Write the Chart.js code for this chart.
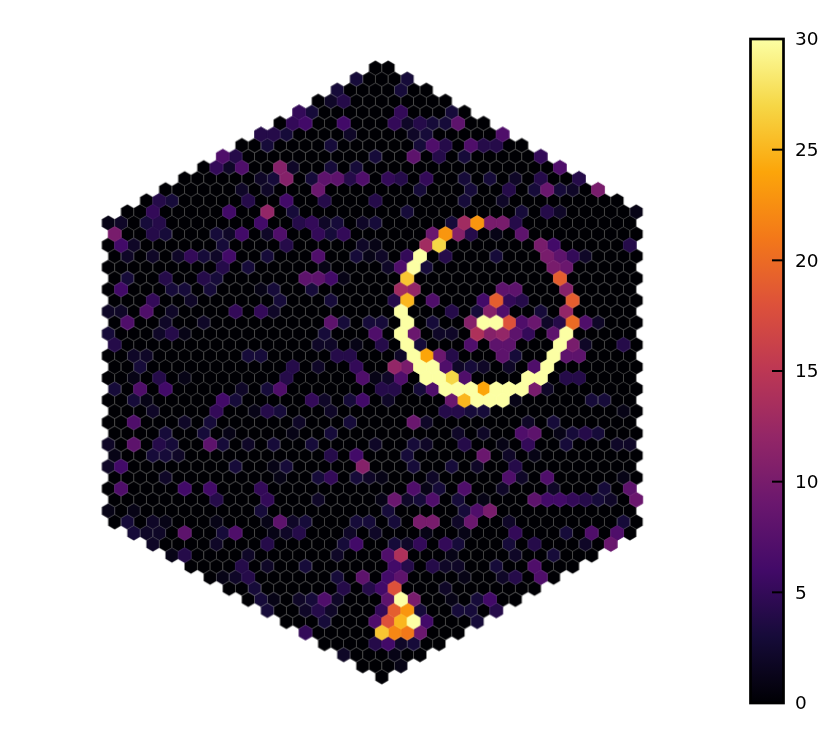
<!DOCTYPE html>
<html>
<head>
<meta charset="utf-8">
<style>
  html, body { margin: 0; background: #fff; }
  canvas { display: block; }
</style>
<script src="https://cdn.jsdelivr.net/npm/chart.js@4"></script>
</head>
<body>
<canvas id="chart" width="830" height="744"></canvas>
<script>
// Extent of the hex grid: first and last column of rows 0..55 (columns count half cells)
const rowFirst = [42,39,36,33,30,27,24,21,18,15,12,9,6,3,0,1,0,1,0,1,0,1,0,1,0,1,0,1,0,1,0,1,0,1,0,1,0,1,0,1,0,1,4,7,10,13,16,19,22,25,28,31,34,37,40,43];
const rowLast = [44,47,50,53,56,59,62,65,68,71,74,77,80,83,82,83,82,83,82,83,82,83,82,83,82,83,82,83,82,83,82,83,82,83,82,83,82,83,82,83,82,83,82,79,76,73,70,67,64,61,58,55,52,49,46,43];

// Cells above the empty background, one line per row
const hotCols = [
  [],
  [39,47],
  [36,46],
  [35,37],
  [30,32,46,54],
  [29,31,37,45,47,49,51,53,55],
  [24,26,28,38,48,50,62],
  [25,35,49,51,53,57,59,61],
  [18,20,42,48,52,56,68],
  [17,19,21,27,29,35,39,71],
  [24,26,28,32,34,36,38,40,44,46,50,56,60,64,68,74],
  [21,25,33,49,57,63,67,69,71,73,77],
  [8,10,22,28,34,42,56,62],
  [7,19,25,29,47,65,69,71,83],
  [0,2,6,8,24,30,32,34,36,40,42,54,56,58,60,62,64],
  [1,7,9,17,19,21,25,27,33,35,37,51,53,55,57,61,65],
  [2,4,18,28,40,42,50,52,68,70,82],
  [3,7,11,13,15,17,19,25,33,39,41,43,47,49,53,61,69,71,73,75],
  [18,22,34,44,46,48,50,70,72],
  [3,9,15,17,31,33,35,37,47,71],
  [2,10,12,16,24,26,32,46,48,62,64,72],
  [7,13,27,35,45,47,51,59,61,63,65,73],
  [0,2,6,10,20,24,26,46,54,58,60,62,68,72],
  [3,9,15,35,37,41,43,47,51,57,59,61,63,65,67,69,71,73,75,77],
  [0,8,10,12,34,42,46,48,52,54,58,60,62,64,66,70,72],
  [1,33,35,39,43,47,49,57,61,63,71,73,75,81],
  [4,6,22,24,36,38,46,48,50,52,54,62,64,70,72,74],
  [5,29,33,39,45,47,49,51,53,55,57,59,63,67,69],
  [4,8,12,28,40,42,44,46,50,52,54,56,66,68,72,74],
  [1,5,9,21,25,27,43,45,49,51,53,55,57,59,61,63,65,67,69],
  [4,6,18,20,32,34,38,40,44,54,56,58,60,62,64,76,78],
  [7,17,23,25,27,35,53,55,57,59,81],
  [4,12,16,30,38,48,50,66,70],
  [9,15,19,29,35,55,59,65,67,71,73,75,77],
  [0,4,8,10,16,18,22,26,32,42,48,50,56,62,66,72,80,82],
  [1,7,9,11,35,39,47,59,63,67],
  [0,2,20,26,28,40,48,54,58,64],
  [9,27,33,35,39,41,43,51,63,65,69,81],
  [2,12,16,24,48,50,52,56,62,70,78,82],
  [17,25,33,43,45,47,49,51,55,59,67,69,71,73,75,77,79,83],
  [0,4,24,44,56,58,60],
  [3,7,9,17,25,27,29,31,39,41,45,49,51,55,57,63,81],
  [4,6,8,12,18,20,26,28,30,38,42,50,56,64,72,76,80],
  [7,17,25,37,39,45,47,49,53,55,63,67,75,79],
  [10,12,22,36,44,46,54,64,70],
  [21,25,31,45,47,51,53,55,61,67],
  [18,20,22,36,40,44,46,56,62,64,68],
  [23,37,41,43,45,53],
  [24,26,30,32,34,36,44,46,48,54,58,60],
  [25,31,33,35,43,45,47,49,55,57,61],
  [34,42,44,46,48,50,58],
  [31,43,45,47,49],
  [42,44,46,48],
  [37,45],
  [46],
  []
];
const hotCounts = [
  [],
  [3,3],
  [3,3],
  [2,4],
  [5,3,5,3],
  [5,6,6,5,2,4,3,3,8],
  [4,4,3,2,2,3,7],
  [3,3,3,7,4,7,4,4],
  [7,4,3,8,4,3,5],
  [5,2,7,11,2,3,3,7],
  [2,3,11,3,8,8,4,7,5,4,5,3,3,2,4,4],
  [2,2,9,3,3,4,3,9,3,2,10],
  [4,3,4,6,4,4,3,2],
  [5,6,12,3,3,3,4,2,1],
  [1,2,3,4,6,4,5,2,3,2,3,3,13,23,10,10,4],
  [10,4,3,3,2,6,2,7,5,3,5,9,23,11,4,1,8],
  [6,2,3,4,2,1,13,27,10,6,4],
  [2,2,2,5,3,2,6,3,7,3,1,2,5,30,4,3,10,8,5,2],
  [4,3,1,2,7,30,3,10,9],
  [3,4,4,3,8,8,6,1,26,19],
  [6,3,3,3,1,3,3,13,12,8,8,11],
  [5,2,3,3,4,25,7,6,19,5,4,19],
  [2,2,7,2,5,5,2,30,4,3,11,7,3,12],
  [7,2,2,8,3,3,3,30,3,11,30,30,18,7,9,2,4,20,7,2],
  [3,2,4,1,3,7,30,9,2,2,14,11,12,8,5,8,30],
  [4,2,2,1,4,30,3,7,8,8,30,10,2,4],
  [2,2,3,3,4,4,2,30,24,9,4,8,3,30,8,8],
  [3,4,2,5,12,10,30,30,7,2,3,2,2,7,30],
  [1,4,1,4,7,1,2,7,30,30,27,7,30,30,4,4],
  [3,7,6,2,3,7,4,4,3,7,30,30,30,24,30,30,30,10,2],
  [3,1,6,3,5,2,3,6,2,9,25,30,30,30,1,3,3],
  [2,5,1,4,3,2,4,4,3,3,1],
  [7,2,3,2,3,9,2,2,3],
  [3,3,1,1,3,2,2,7,8,1,3,4,3],
  [2,8,4,3,8,3,2,3,3,2,3,2,4,1,5,3,2,2],
  [1,3,3,2,4,6,3,9,2,1],
  [2,6,3,1,3,11,3,3,2,4],
  [2,1,3,5,3,2,1,2,7,2,7,1],
  [7,6,6,5,7,1,3,7,2,2,3,8],
  [4,5,2,1,9,2,3,7,3,1,8,6,6,5,4,3,2,9],
  [1,1,3,3,3,7,10],
  [3,2,1,1,1,8,2,3,3,3,3,10,10,2,9,2,3],
  [3,2,2,8,3,7,1,2,4,2,2,1,1,5,3,7,7],
  [2,2,4,3,6,3,2,5,5,3,3,4,2,9],
  [1,4,2,2,7,14,1,2,3],
  [4,2,3,6,4,4,2,2,3,7],
  [1,2,4,3,8,6,8,1,2,4,7],
  [3,4,4,6,18,2],
  [3,1,2,3,7,2,8,30,10,1,3,6],
  [3,2,4,2,5,19,23,3,3,3,4],
  [3,7,18,25,30,6,3],
  [5,26,22,21,9],
  [4,6,2,3],
  [2,1],
  [1],
  []
];

const colorbarTicks = [0, 5, 10, 15, 20, 25, 30];
const vmax = 30;
// inferno
const colormap = ["#000004","#160b39","#420a68","#6a176e","#932667","#bc3754","#dd513a","#f37819","#fca50a","#f6d746","#fcffa4"];

function hexToRgb(h) {
    return [1, 3, 5].map((i) => parseInt(h.slice(i, i + 2), 16));
}

function colorFor(v) {
    const t = Math.min(v / vmax, 1) * (colormap.length - 1);
    const i = Math.min(Math.floor(t), colormap.length - 2);
    const a = hexToRgb(colormap[i]);
    const b = hexToRgb(colormap[i + 1]);
    const c = a.map((ch, k) => Math.round(ch + (b[k] - ch) * (t - i)));
    return `rgb(${c[0]},${c[1]},${c[2]})`;
}

// one small hexagon canvas per count, chart.js draws it as the point style
const sprites = {};
function hexSprite(v) {
    if (sprites[v]) return sprites[v];
    const cv = document.createElement("canvas");
    cv.width = 16;
    cv.height = 18;
    const c = cv.getContext("2d");
    const R = 7.38;
    c.beginPath();
    for (let k = 0; k < 6; k++) {
        const a = Math.PI / 2 + (k * Math.PI) / 3;
        c.lineTo(8 + R * Math.cos(a), 9 + R * Math.sin(a));
    }
    c.closePath();
    c.fillStyle = colorFor(v);
    c.fill();
    c.lineWidth = v < 4 ? 0.5 : 0.8;
    c.strokeStyle = v < 4 ? "rgba(90,90,90,0.55)" : colorFor(v);
    c.stroke();
    sprites[v] = cv;
    return cv;
}

const cells = [];
rowFirst.forEach((first, r) => {
    for (let col = first; col <= rowLast[r]; col += 2) {
        const i = hotCols[r].indexOf(col);
        cells.push({ x: col, y: r, v: i >= 0 ? hotCounts[r][i] : 0 });
    }
});
// low counts first so the bright cells keep their full shape
cells.sort((a, b) => a.v - b.v);

const colorbarPlugin = {
    id: "colorbar",
    afterDatasetsDraw(chart) {
        const s = chart.scales.cb;
        const c = chart.ctx;
        const right = s.left;
        const left = right - 33;
        const g = c.createLinearGradient(0, s.bottom, 0, s.top);
        colormap.forEach((col, i) => g.addColorStop(i / (colormap.length - 1), col));
        c.save();
        c.fillStyle = g;
        c.fillRect(left, s.top, right - left, s.bottom - s.top);
        c.strokeStyle = "#000";
        c.lineWidth = 2;
        colorbarTicks.forEach((t) => {
            const y = s.getPixelForValue(t);
            c.beginPath();
            c.moveTo(right - 11.5, y);
            c.lineTo(right, y);
            c.stroke();
        });
        c.lineWidth = 2.7;
        c.strokeRect(left, s.top, right - left, s.bottom - s.top);
        c.restore();
    },
};

new Chart(document.getElementById("chart"), {
    type: "scatter",
    data: {
        datasets: [
            {
                data: cells,
                pointRadius: 7,
                pointStyle: (ctx) => hexSprite(ctx.raw ? ctx.raw.v : 0),
            },
        ],
    },
    options: {
        responsive: false,
        animation: false,
        layout: { autoPadding: false, padding: { top: 39, bottom: 41, left: 0, right: 0 } },
        plugins: { legend: { display: false }, tooltip: { enabled: false } },
        scales: {
            x: { type: "linear", display: false, min: -17.03, max: 106.16 },
            y: { type: "linear", display: false, reverse: true, min: -2.62, max: 57.36 },
            cb: {
                type: "linear",
                axis: "y",
                position: "right",
                min: 0,
                max: vmax,
                afterFit: (s) => { s.width = 46.5; },
                afterBuildTicks: (s) => { s.ticks = colorbarTicks.map((value) => ({ value })); },
                grid: { display: false, drawTicks: false },
                border: { display: false },
                ticks: {
                    padding: 11.5,
                    labelOffset: 1.5,
                    color: "#000",
                    font: { family: "DejaVu Sans", size: 18.5 },
                },
            },
        },
    },
    plugins: [colorbarPlugin],
});
</script>
</body>
</html>
